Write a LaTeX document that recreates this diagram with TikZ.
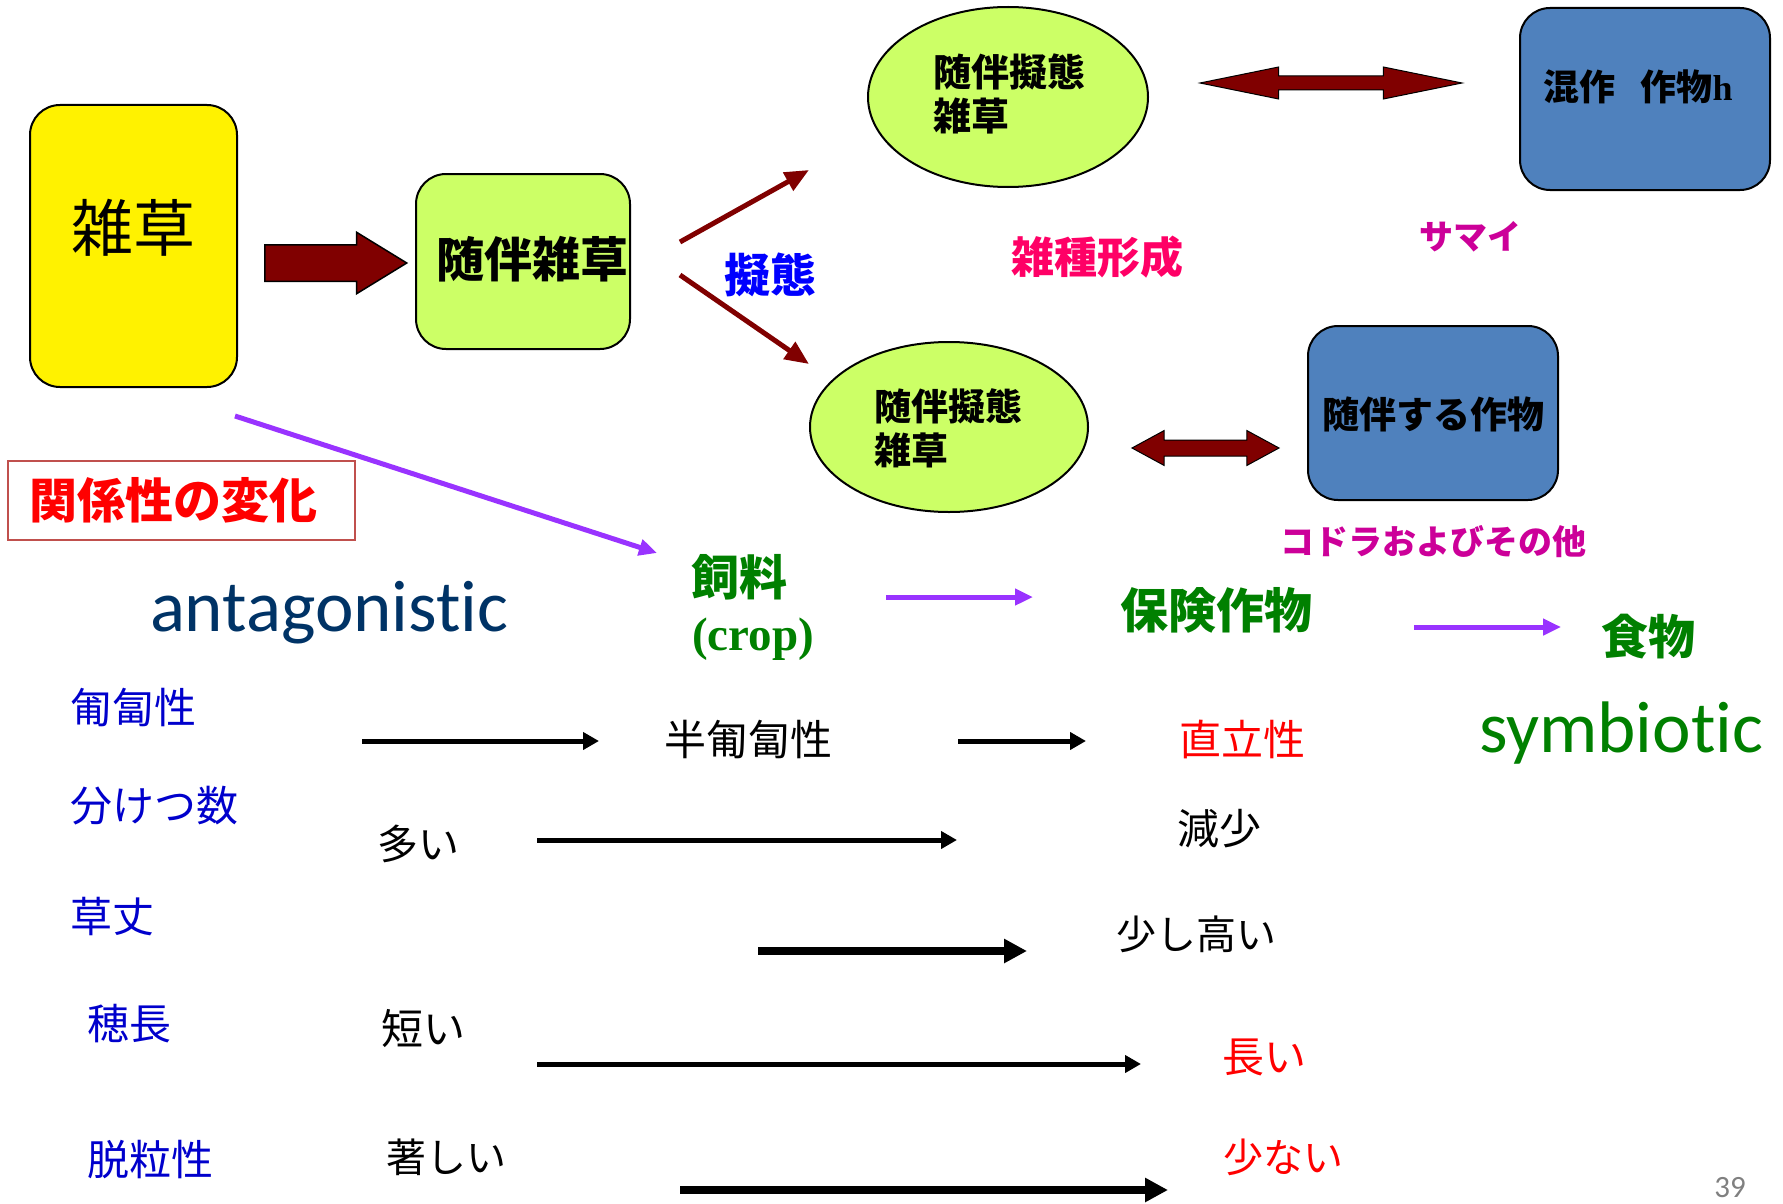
\documentclass[tikz,border=0pt]{standalone}
\usepackage{fontspec}
\setmainfont{Carlito}[Ligatures=NoCommon]
\newfontfamily\jp{Noto Sans CJK JP}
\newfontfamily\tms{Liberation Serif}
\usetikzlibrary{shapes.geometric,shapes.arrows,arrows.meta}
\definecolor{dred}{HTML}{800000}
\definecolor{lgreen}{HTML}{CCFF66}
\definecolor{bbox}{HTML}{4F81BD}
\definecolor{pink}{HTML}{FF0066}
\definecolor{mag}{HTML}{CC0099}
\definecolor{purp}{HTML}{9933FF}
\definecolor{navy}{HTML}{003366}
\definecolor{grn}{HTML}{008000}
\definecolor{lblue}{HTML}{0000CC}
\definecolor{boxred}{HTML}{C0504D}
\newcommand\fsz[2]{\fontsize{#1pt}{#2pt}\selectfont}
\begin{document}
\begin{tikzpicture}[x=1pt,y=-1pt,
  rbox/.style={draw=black, line width=2pt, rounded corners=30pt, inner sep=0pt},
  ell/.style={ellipse, draw=black, line width=2pt, fill=lgreen, inner sep=0pt},
  txt/.style={inner sep=0pt, outer sep=0pt},
  jb/.style={txt, font=\jp\bfseries\fsz{#1}{#1}},
  jr/.style={txt, font=\jp\fsz{#1}{#1}},
  redarr/.style={draw=dred, line width=5pt, -{Triangle[length=24pt,width=20pt]}},
  purarr/.style={draw=purp, line width=5pt, -{Triangle[length=18pt,width=16pt]}},
  thinarr/.style={draw=black, line width=5pt, -{Triangle[length=16pt,width=17pt]}},
  thickarr/.style={draw=black, line width=8pt, -{Triangle[length=23pt,width=23pt]}},
  label/.style={jr=42, text=lblue, anchor=west}
]
\useasboundingbox (0,0) rectangle (1783,1204);

% top row
\node[rbox, fill=yellow, minimum width=207pt, minimum height=282pt] (weed) at (133.5,246) {};
\node[jr=62] (weedt) at (133,228) {雑草};

\node[single arrow, draw=black, line width=1.5pt, fill=dred, inner xsep=0pt, inner ysep=17.5pt,
      single arrow head extend=12.5pt, single arrow tip angle=63, minimum height=142pt, anchor=tail] (barrow) at (264,263) {};

\node[rbox, fill=lgreen, minimum width=214pt, minimum height=175pt] (comp) at (523,261.5) {};
\node[jb=48] (compt) at (532,259) {随伴雑草};

\coordinate (m1s) at (680,242); \coordinate (m1e) at (809,170);
\coordinate (m2s) at (680,275); \coordinate (m2e) at (809,364);
\draw[redarr] (m1s) -- (m1e);
\draw[redarr] (m2s) -- (m2e);
\node[jb=46, text=blue] (mim) at (770,275) {擬態};

\node[ell, minimum width=280pt, minimum height=180pt] (e1) at (1008,97) {};
\node[txt, font=\jp\bfseries\fsz{38}{44}, align=left, anchor=west] (e1t) at (933,94) {随伴擬態\\雑草};

\node[double arrow, draw=black, line width=1pt, fill=dred, inner xsep=0pt, inner ysep=6.5pt,
      double arrow head extend=9pt, double arrow tip angle=23, minimum height=262pt] (da1) at (1331,83) {};

\node[rbox, fill=bbox, minimum width=250pt, minimum height=182pt] (b1) at (1645,99) {};
\node[txt] (b1t) at (1638,87) {{\jp\bfseries\fsz{36}{36}混作　\hspace{-0.3em}作物}{\tms\bfseries\fsz{36}{36}h}};

\node[jb=43, text=pink] (hyb) at (1097,257) {雑種形成};
\node[jb=34, text=mag] (samai) at (1470,237) {サマイ};

\node[ell, minimum width=278pt, minimum height=170pt] (e2) at (949,427) {};
\node[txt, font=\jp\bfseries\fsz{37}{44}, align=left, anchor=west] (e2t) at (874,428) {随伴擬態\\雑草};

\node[double arrow, draw=black, line width=1pt, fill=dred, inner xsep=0pt, inner ysep=7.5pt,
      double arrow head extend=9.5pt, double arrow tip angle=57, minimum height=147pt] (da2) at (1205.5,448) {};

\node[rbox, fill=bbox, minimum width=250pt, minimum height=174pt] (b2) at (1433,413) {};
\node[jb=37] (b2t) at (1433,414) {随伴する作物};

\node[jb=34, text=mag] (kodo) at (1433,542) {コドラおよびその他};

% relation box
\node[draw=boxred, line width=2pt, minimum width=347pt, minimum height=79pt, inner sep=0pt] (relbox) at (181.5,500.5) {};
\node[jb=48, text=red] (relt) at (173,500) {関係性の変化};

\coordinate (p1s) at (235,416); \coordinate (p1e) at (657,553);
\draw[purarr] (p1s) -- (p1e);

\node[jb=48, text=grn, anchor=west] (feed) at (691,577) {飼料};
\node[txt, font=\tms\bfseries\fsz{47}{47}, text=grn, anchor=west] (crop) at (692,639) {(crop)};

\coordinate (p2s) at (886,597); \coordinate (p2e) at (1033,597);
\draw[purarr] (p2s) -- (p2e);
\node[jb=48, text=grn] (ins) at (1216,610) {保険作物};
\coordinate (p3s) at (1414,627); \coordinate (p3e) at (1561,627);
\draw[purarr] (p3s) -- (p3e);
\node[jb=47, text=grn] (food) at (1648,637) {食物};

\node[txt, font=\fsz{73}{73}, text=navy, anchor=base west] (ant) at (150,631) {antagonistic};
\node[txt, font=\fsz{73}{73}, text=grn, anchor=base west] (sym) at (1479,752) {symbiotic};

% left labels
\node[label] (l1) at (70,708) {匍匐性};
\node[label] (l2) at (70,806) {分けつ数};
\node[label] (l3) at (70,917) {草丈};
\node[label] (l4) at (87,1024) {穂長};
\node[label] (l5) at (87,1160) {脱粒性};

% middle
\node[jr=41] (m1) at (418,844) {多い};
\node[jr=42] (m2) at (423,1029) {短い};
\node[jr=40] (m3) at (446,1157) {著しい};
\node[jr=42] (m4) at (748,740) {半匍匐性};

% right
\node[jr=42, text=red] (r1) at (1242,739) {直立性};
\node[jr=42] (r2) at (1219,829) {減少};
\node[jr=40] (r3) at (1196,934) {少し高い};
\node[jr=42, text=red] (r4) at (1264,1057) {長い};
\node[jr=40, text=red] (r5) at (1283,1157) {少ない};

% black arrows
\coordinate (a1s) at (362,741); \coordinate (a1e) at (599,741);
\coordinate (a2s) at (537,840); \coordinate (a2e) at (957,840);
\coordinate (a3s) at (758,951); \coordinate (a3e) at (1027,951);
\coordinate (a4s) at (537,1064); \coordinate (a4e) at (1141,1064);
\coordinate (a5s) at (680,1190); \coordinate (a5e) at (1168,1190);
\coordinate (a6s) at (958,741); \coordinate (a6e) at (1086,741);
\draw[thinarr] (a1s) -- (a1e);
\draw[thinarr] (a2s) -- (a2e);
\draw[thickarr] (a3s) -- (a3e);
\draw[thinarr] (a4s) -- (a4e);
\draw[thickarr] (a5s) -- (a5e);
\draw[thinarr] (a6s) -- (a6e);

\node[txt, font=\fsz{31}{31}, text=gray] (pg) at (1730,1188) {39};
\end{tikzpicture}
\end{document}
